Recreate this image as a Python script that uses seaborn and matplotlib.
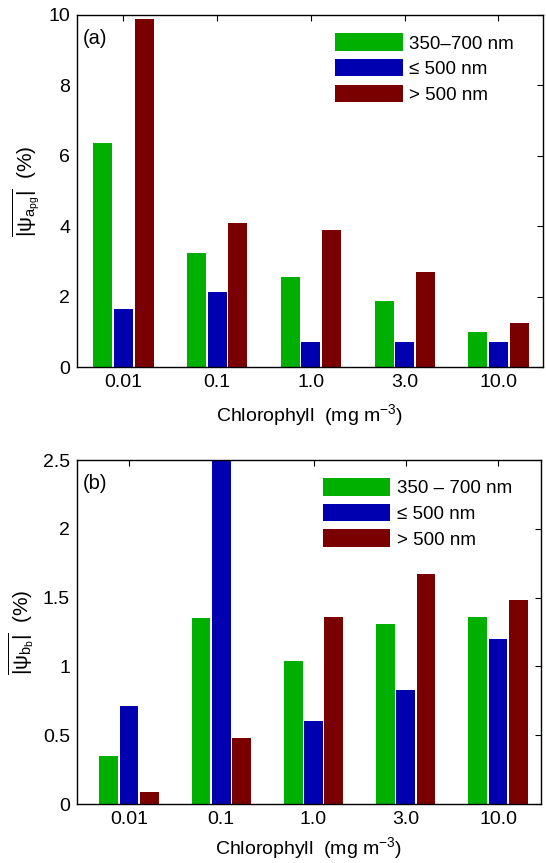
import matplotlib
matplotlib.use("Agg")
import matplotlib.pyplot as plt
import seaborn as sns
import pandas as pd
from matplotlib.patches import Patch
from matplotlib.ticker import FuncFormatter

categories = ["0.01", "0.1", "1.0", "3.0", "10.0"]

a_full = [6.35, 3.25, 2.55, 1.87, 1.00]
a_blue = [1.65, 2.12, 0.72, 0.70, 0.70]
a_red = [9.90, 4.10, 3.90, 2.70, 1.25]

b_full = [0.35, 1.35, 1.04, 1.31, 1.36]
b_blue = [0.71, 2.50, 0.60, 0.83, 1.20]
b_red = [0.09, 0.48, 1.36, 1.67, 1.48]

labels_a = ["350\u2013700 nm", "\u2264 500 nm", "> 500 nm"]
labels_b = ["350 \u2013 700 nm", "\u2264 500 nm", "> 500 nm"]

a_yticks = [0, 2, 4, 6, 8, 10]
b_yticks = [0, 0.5, 1, 1.5, 2, 2.5]

colors = ["#00b000", "#0000b0", "#7a0000"]

sns.set_theme(style="white")
plt.rcParams['font.family'] = ['Liberation Sans', 'DejaVu Sans']
plt.rcParams['mathtext.fontset'] = 'custom'
plt.rcParams['mathtext.rm'] = 'Liberation Sans'
plt.rcParams['mathtext.it'] = 'Liberation Sans:italic'
plt.rcParams['mathtext.sf'] = 'Liberation Sans'
plt.rcParams['text.color'] = 'black'
plt.rcParams['axes.labelcolor'] = 'black'

FS = 14

def make_df(full, blue, red, labels):
    rows = []
    for lab, vals in zip(labels, [full, blue, red]):
        for c, v in zip(categories, vals):
            rows.append({"chl": c, "band": lab, "val": v})
    return pd.DataFrame(rows)

fig = plt.figure(figsize=(5.46, 8.63), dpi=100)
ax_a = fig.add_axes([77/546, 1-367/863, 466/546, 352/863])
ax_b = fig.add_axes([77/546, 1-804/863, 464/546, 344/863])

panels = [
    (ax_a, make_df(a_full, a_blue, a_red, labels_a), labels_a, a_yticks, 10, "(a)",
     r"$\overline{|\mathrm{\psi}_{\mathrm{a}_{\mathrm{pg}}}|}$  (%)",
     (-0.496, 4.475), 8, (0.954, 0.969)),
    (ax_b, make_df(b_full, b_blue, b_red, labels_b), labels_b, b_yticks, 2.5, "(b)",
     r"$\overline{|\mathrm{\psi}_{\mathrm{b}_{\mathrm{b}}}|}$  (%)",
     (-0.564, 4.466), 5, (0.954, 0.969)),
]

for ax, df, labs, yt, ymax, tag, ylab, xl, xpad, anchor in panels:
    sns.barplot(data=df, x="chl", y="val", hue="band", order=categories,
                hue_order=labs, palette=colors, width=0.66, gap=0.08,
                saturation=1, ax=ax, legend=False, edgecolor="none")
    ax.set_xlim(*xl)
    ax.set_ylim(0, ymax)
    ax.set_yticks(yt)
    ax.yaxis.set_major_formatter(FuncFormatter(lambda v, p: "%g" % v))
    ax.tick_params(direction="in", top=True, right=True, length=4, width=0.8,
                   labelsize=FS, colors="black", pad=5)
    for s in ax.spines.values():
        s.set_color("black")
        s.set_linewidth(1.0)
    ax.set_xlabel("Chlorophyll  (mg m$^{-3}$)", fontsize=FS, labelpad=xpad,
                  color="black")
    ax.set_ylabel(ylab, fontsize=FS + 1, labelpad=4, color="black")
    ax.text(0.013, 0.96, tag, transform=ax.transAxes, fontsize=FS + 0.5,
            ha="left", va="top", color="black")
    handles = [Patch(facecolor=c, edgecolor="none") for c in colors]
    leg = ax.legend(handles, labs, loc="upper right", bbox_to_anchor=anchor,
                    frameon=False, fontsize=13.5,
                    handlelength=3.6, handleheight=1.05, labelspacing=0.35,
                    handletextpad=0.35, borderaxespad=0.0)
    for t in leg.get_texts():
        t.set_color("black")

fig.savefig("out.png", dpi=100)
